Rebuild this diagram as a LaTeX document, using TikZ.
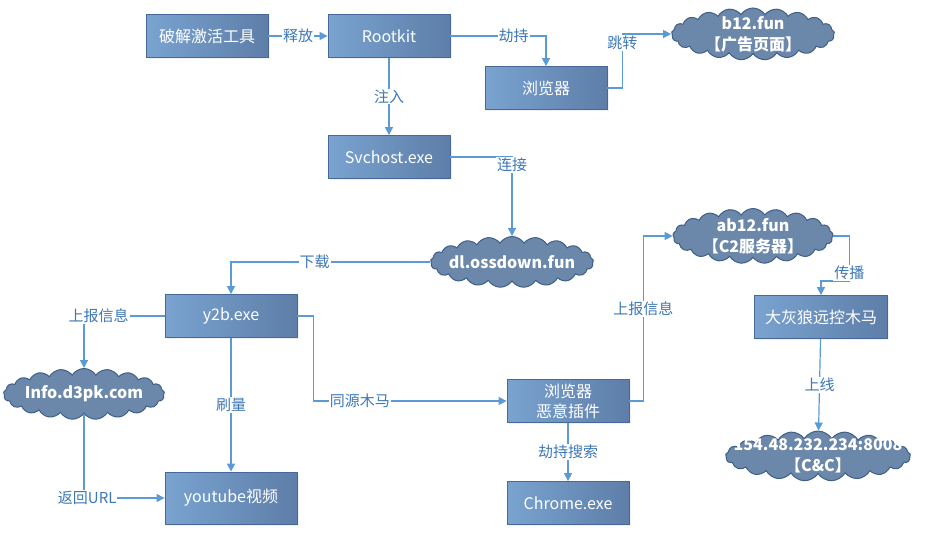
\documentclass[tikz,border=0pt]{standalone}
\usepackage{fontspec}
\setmainfont{Noto Sans CJK SC}
\usepackage{tikz}
\usetikzlibrary{shapes,arrows,arrows.meta,positioning,shadows}

\definecolor{boxtop}{HTML}{7AA3D0}
\definecolor{boxbot}{HTML}{5D7EA8}
\definecolor{boxline}{HTML}{46699A}
\definecolor{cloudfill}{HTML}{6B88AA}
\definecolor{cloudline}{HTML}{3F5E88}
\definecolor{linkblue}{HTML}{5B9BD5}
\definecolor{lblblue}{HTML}{3D78B6}

\begin{document}
\begin{tikzpicture}[x=1pt,y=-1pt,
	>={Triangle[length=8pt,width=8pt]},
	box/.style={draw=boxline,line width=0.8pt,left color=boxtop,right color=boxbot,
		text=white,minimum width=122pt,minimum height=43pt,inner sep=1pt,
		align=center,font=\fontsize{16}{20}\selectfont,
		drop shadow={opacity=0.12,shadow xshift=1.5pt,shadow yshift=-1.5pt}},
	cloudy/.style={cloud,cloud puffs=21,cloud puff arc=115,aspect=3.3,
		draw=cloudline,line width=1pt,fill=cloudfill,inner sep=0pt},
	cloudtxt/.style={text=white,inner sep=0pt,align=center,
		font=\bfseries\fontsize{16}{21}\selectfont},
	link/.style={->,draw=linkblue,line width=1.2pt},
	lbl/.style={fill=white,text=lblblue,inner sep=1pt,font=\fontsize{15}{18}\selectfont}]
	\useasboundingbox (0,0) rectangle (925,549);
	% boxes
	\node[box] (crack) at (207,36) {破解激活工具};
	\node[box] (rk)    at (389,36) {Rootkit};
	\node[box] (bro)   at (546,88) {浏览器};
	\node[box] (sv)    at (389,157) {Svchost.exe};
	\node[box,minimum width=132pt] (y2b) at (231,316) {y2b.exe};
	\node[box,minimum width=132pt,minimum height=52pt] (yt) at (231,498) {youtube视频};
	\node[box] (plug)  at (568,401) {浏览器\\恶意插件};
	\node[box] (chr)   at (568,503) {Chrome.exe};
	\node[box,minimum width=133pt] (dhl) at (821,317) {大灰狼远控木马};
	% clouds
	\node[cloudy,minimum width=163pt,minimum height=52pt] (b12)  at (753,34) {};
	\node[cloudy,minimum width=163pt,minimum height=51pt] (dl)   at (512,262) {};
	\node[cloudy,minimum width=161pt,minimum height=51pt] (info) at (84,394) {};
	\node[cloudy,minimum width=160pt,minimum height=55pt] (ab12) at (753,236) {};
	\node[cloudy,minimum width=185pt,minimum height=50pt] (cc)   at (818,456) {};
	\node[cloudtxt] (b12t)  at (b12)  {b12.fun\\【广告页面】};
	\node[cloudtxt] (dlt)   at (dl)   {dl.ossdown.fun};
	\node[cloudtxt] (infot) at (info) {Info.d3pk.com};
	\node[cloudtxt] (ab12t) at (ab12) {ab12.fun\\【C2服务器】};
	\node[cloudtxt] (cct)   at (cc)   {154.48.232.234:8008\\【C\&C】};
	% connectors
	\draw[link] (crack) -- node[lbl]{释放} (rk);
	\draw[link] (rk.east) -| node[lbl,pos=0.33]{劫持} (bro.north);
	\draw[link] (bro.east) -- ++(15,0) |- node[lbl,pos=0.42]{跳转} (b12.west);
	\draw[link] (rk) -- node[lbl]{注入} (sv);
	\draw[link] (sv.east) -| node[lbl,pos=0.55]{连接} (dl.north);
	\draw[link] (dl.west) -| node[lbl,pos=0.29]{下载} (y2b.north);
	\draw[link] (y2b.west) -| node[lbl,pos=0.41]{上报信息} (info.north);
	\draw[link] (info.south) |- node[lbl,pos=0.52]{返回URL} (yt.west);
	\draw[link] (y2b) -- node[lbl,pos=0.5]{刷量} (yt);
	\draw[link] (y2b.east) -- ++(16,0) |- node[lbl,pos=0.62]{同源木马} (plug.west);
	\draw[link] (plug.east) -- ++(14,0) |- node[lbl,pos=0.28]{上报信息} (ab12.west);
	\draw[link] (plug) -- node[lbl]{劫持搜索} (chr);
	\draw[link] (ab12.east) -| ++(16,45) node[lbl,pos=0.91]{传播} -| (dhl.north);
	\draw[link] (dhl) -- node[lbl]{上线} (cc);
\end{tikzpicture}
\end{document}
